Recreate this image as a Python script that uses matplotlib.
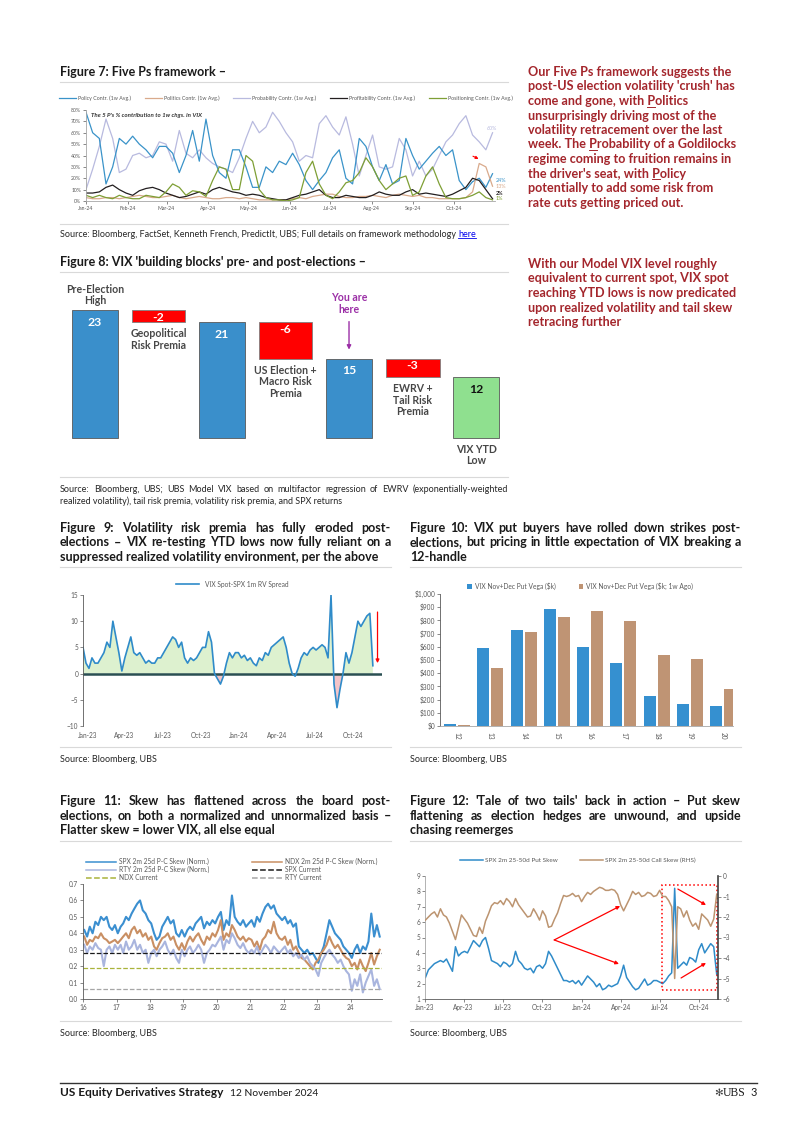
import numpy as np
import pandas as pd
import matplotlib
matplotlib.use("Agg")
import matplotlib.pyplot as plt
import matplotlib.dates as mdates
from matplotlib.lines import Line2D
from matplotlib.patches import Rectangle
from matplotlib.ticker import MultipleLocator, FuncFormatter

# ======================= DATA =======================
# Figure 7 - Five Ps contributions (%)
fp_labels = ["Policy Contr. (1w Avg.)", "Politics Contr. (1w Avg.)", "Probability Contr. (1w Avg.)",
             "Profitability Contr. (1w Avg.)", "Positioning Contr. (1w Avg.)"]
fp_policy = [78, 60, 55, 15, 30, 55, 50, 57, 50, 45, 38, 48, 48, 42, 25, 40, 62, 35, 72, 40, 25, 20, 45, 45, 30,
             12, 12, 30, 25, 35, 32, 42, 32, 18, 10, 18, 25, 38, 45, 20, 15, 55, 48, 30, 18, 32, 15, 18, 55, 40,
             28, 35, 42, 48, 40, 45, 18, 10, 17, 20, 12, 24]
fp_politics = [3, 2, 2, 3, 3, 2, 3, 4, 5, 4, 3, 3, 4, 5, 3, 2, 3, 4, 3, 2, 2, 3, 3, 2, 3, 2, 1, 1, 1, 1, 1, 2, 3,
               2, 4, 5, 6, 6, 4, 3, 3, 4, 4, 5, 4, 3, 5, 6, 5, 4, 5, 3, 3, 2, 2, 2, 2, 3, 8, 33, 30, 13]
fp_probability = [10, 28, 48, 72, 55, 25, 28, 40, 42, 38, 40, 52, 50, 35, 62, 42, 38, 45, 38, 33, 30, 28, 25, 38,
                  55, 70, 60, 65, 78, 70, 60, 52, 35, 40, 38, 68, 75, 65, 58, 74, 50, 22, 40, 58, 30, 28, 30, 55,
                  45, 22, 35, 22, 28, 40, 52, 58, 68, 75, 58, 52, 45, 60]
fp_profitability = [7, 7, 8, 12, 14, 10, 7, 5, 9, 11, 12, 10, 7, 5, 3, 4, 6, 8, 6, 10, 12, 10, 8, 7, 5, 6, 5, 3, 2,
                    1, 1, 3, 5, 6, 8, 10, 5, 3, 3, 5, 4, 3, 3, 5, 8, 6, 5, 5, 8, 10, 6, 7, 6, 5, 4, 6, 9, 12, 20,
                    18, 10, 2]
fp_positioning = [5, 3, 5, 3, 2, 5, 3, 2, 2, 5, 4, 3, 8, 15, 12, 5, 9, 8, 4, 18, 30, 28, 10, 10, 40, 35, 10, 3, 1,
                  1, 0, 1, 3, 25, 35, 15, 5, 2, 8, 16, 18, 25, 38, 30, 18, 10, 15, 20, 22, 5, 8, 22, 30, 15, 3, 2,
                  2, 3, 5, 8, 3, 1]

# Figure 8 - VIX building blocks
wf_labels = ["Pre-Election\nHigh", "Geopolitical\nRisk Premia", "", "US Election +\nMacro Risk\nPremia",
             "You are\nhere", "EWRV +\nTail Risk\nPremia", "VIX YTD\nLow"]
wf_values = [23, -2, 21, -6, 15, -3, 12]
wf_kind = ["level", "delta", "level", "delta", "level", "delta", "target"]

# Figure 9 - VIX spot minus SPX 1m RV (weekly samples)
vrp_label = "VIX Spot-SPX 1m RV Spread"
vrp = [5, 2, 1, 3, 2, 2, 3, 4, 6, 5,
       10, 7, 4, 0.5, 3, 5, 7, 4, 3.5, 4,
       3, 2, 2.5, 2, 2, 3, 3, 4, 5, 6,
       7, 6.5, 5, 6, 3, 2, 3, 2.5, 3, 4,
       5, 5, 8, 6, 0, -1, -2, -0.5, 2, 4,
       3, 4, 4, 3, 3.5, 2.5, 3, 2, 1.5, 3,
       2.5, 4, 3.5, 5, 5.5, 6, 6.5, 7, 5, 2,
       0, -0.5, 1, 3, 4, 3.5, 4.5, 5, 4.5, 5,
       5.5, 5, 3, 15, -2, -6.5, -3, 0, 4, 2,
       4, 7, 10, 9, 10, 11, 11.5, 1.5]

# Figure 10 - VIX put vega by strike ($k)
strikes = ["12", "13", "14", "15", "16", "17", "18", "19", "20"]
vega_now = [15, 590, 730, 890, 600, 480, 230, 170, 150]
vega_1w = [10, 440, 710, 825, 870, 795, 540, 510, 280]
vega_labels = ["VIX Nov+Dec Put Vega ($k)", "VIX Nov+Dec Put Vega ($k; 1w Ago)"]

# Figure 11 - normalized 25d put-call skew (monthly)
skew_labels = ["SPX 2m 25d P-C Skew (Norm.)", "NDX 2m 25d P-C Skew (Norm.)", "RTY 2m 25d P-C Skew (Norm.)",
               "SPX Current", "NDX Current", "RTY Current"]
spx_skew = [0.42, 0.38, 0.44, 0.40, 0.47, 0.45, 0.50, 0.48, 0.50, 0.44, 0.42, 0.45,
            0.40, 0.44, 0.46, 0.50, 0.48, 0.52, 0.55, 0.58, 0.60, 0.54, 0.52, 0.48,
            0.46, 0.40, 0.36, 0.38, 0.44, 0.47, 0.50, 0.46, 0.48, 0.40, 0.38, 0.42,
            0.38, 0.42, 0.44, 0.42, 0.46, 0.48, 0.50, 0.43, 0.47, 0.45, 0.48, 0.46,
            0.50, 0.53, 0.42, 0.48, 0.45, 0.63, 0.50, 0.47, 0.45, 0.48, 0.44, 0.46,
            0.48, 0.44, 0.50, 0.47, 0.52, 0.56, 0.58, 0.55, 0.57, 0.52, 0.50, 0.48,
            0.50, 0.46, 0.48, 0.44, 0.46, 0.32, 0.30, 0.28, 0.30, 0.27, 0.28, 0.25,
            0.22, 0.28, 0.32, 0.40, 0.48, 0.44, 0.40, 0.38, 0.36, 0.32, 0.30, 0.28,
            0.25, 0.30, 0.33, 0.28, 0.32, 0.30, 0.35, 0.52, 0.38, 0.45, 0.38]
ndx_skew = [0.38, 0.33, 0.36, 0.35, 0.38, 0.37, 0.40, 0.37, 0.36, 0.34, 0.35, 0.36,
            0.34, 0.36, 0.38, 0.40, 0.37, 0.42, 0.44, 0.40, 0.42, 0.38, 0.40, 0.36,
            0.38, 0.32, 0.30, 0.34, 0.37, 0.38, 0.40, 0.36, 0.38, 0.33, 0.30, 0.34,
            0.30, 0.35, 0.38, 0.35, 0.38, 0.40, 0.36, 0.33, 0.38, 0.36, 0.40, 0.38,
            0.42, 0.48, 0.36, 0.40, 0.38, 0.45, 0.42, 0.38, 0.36, 0.38, 0.35, 0.37,
            0.36, 0.32, 0.35, 0.30, 0.36, 0.38, 0.42, 0.40, 0.47, 0.40, 0.37, 0.36,
            0.38, 0.33, 0.36, 0.30, 0.32, 0.28, 0.25, 0.24, 0.22, 0.20, 0.18, 0.22,
            0.24, 0.28, 0.30, 0.33, 0.38, 0.34, 0.31, 0.33, 0.30, 0.27, 0.25, 0.24,
            0.20, 0.22, 0.18, 0.24, 0.20, 0.17, 0.22, 0.28, 0.21, 0.26, 0.30]
rty_skew = [0.33, 0.28, 0.32, 0.30, 0.34, 0.31, 0.30, 0.20, 0.30, 0.32, 0.28, 0.33,
            0.30, 0.33, 0.28, 0.35, 0.30, 0.32, 0.36, 0.30, 0.33, 0.28, 0.30, 0.22,
            0.28, 0.30, 0.26, 0.30, 0.32, 0.35, 0.30, 0.27, 0.30, 0.25, 0.22, 0.30,
            0.26, 0.30, 0.32, 0.28, 0.30, 0.33, 0.30, 0.22, 0.28, 0.30, 0.33, 0.32,
            0.35, 0.38, 0.30, 0.36, 0.34, 0.40, 0.37, 0.33, 0.31, 0.34, 0.30, 0.28,
            0.30, 0.28, 0.32, 0.27, 0.30, 0.33, 0.31, 0.28, 0.32, 0.30, 0.28, 0.30,
            0.32, 0.28, 0.30, 0.26, 0.28, 0.25, 0.27, 0.24, 0.26, 0.22, 0.20, 0.18,
            0.14, 0.22, 0.25, 0.28, 0.30, 0.27, 0.25, 0.22, 0.24, 0.20, 0.17, 0.15,
            0.05, 0.12, 0.08, 0.15, 0.04, 0.10, 0.14, 0.18, 0.08, 0.12, 0.06]
skew_current = [0.28, 0.19, 0.06]   # SPX, NDX, RTY

# Figure 12 - SPX put / call skew (weekly)
tails_labels = ["SPX 2m 25-50d Put Skew", "SPX 2m 25-50d Call Skew (RHS)"]
put_skew = [2.4, 2.9, 3.1, 3.3, 3.4, 3.5, 3.4, 3.6, 3.2, 2.8,
            4.4, 3.8, 4.0, 4.1, 4.0, 4.4, 4.8, 4.6, 4.4, 4.8,
            5.0, 4.3, 3.5, 3.4, 3.3, 3.1, 3.4, 3.3, 3.1, 3.3,
            4.1, 3.5, 3.3, 3.0, 2.9, 3.0, 2.7, 3.1, 3.2, 3.0,
            3.3, 4.1, 3.8, 3.4, 3.0, 2.6, 2.2, 2.2, 2.1, 2.2,
            2.0, 2.2, 1.9, 2.2, 2.5, 2.3, 2.1, 1.8, 2.0, 1.6,
            1.7, 1.9, 1.8, 1.9, 2.0, 2.5, 3.2, 2.4, 2.1, 1.8,
            1.6, 1.7, 2.0, 2.3, 1.9, 2.0, 2.2, 2.2, 2.1, 2.0,
            2.2, 2.5, 2.7, 8.2, 3.0, 3.2, 3.4, 3.2, 3.7, 3.6,
            3.4, 4.2, 4.6, 4.0, 4.3, 4.6, 4.4, 2.6]
call_skew = [-2.15, -2.0, -1.85, -1.75, -2.0, -1.6, -1.9, -2.0, -2.3, -2.7,
             -3.1, -2.5, -1.9, -2.1, -2.3, -2.6, -2.9, -2.95, -2.5, -2.8,
             -2.2, -1.85, -1.45, -1.3, -1.35, -1.2, -1.4, -1.1, -1.25, -1.5,
             -1.1, -1.4, -1.6, -1.8, -2.0, -1.95, -1.6, -1.85, -2.15, -1.7,
             -1.95, -2.5, -2.45, -2.1, -1.8, -1.35, -0.95, -1.0, -0.95, -0.85,
             -1.0, -0.95, -1.25, -1.0, -0.8, -0.9, -0.75, -0.65, -0.55, -0.6,
             -0.7, -0.7, -0.65, -0.7, -0.9, -1.4, -1.7, -1.4, -1.1, -0.75,
             -0.9, -0.8, -1.0, -0.95, -0.8, -0.85, -1.0, -0.95, -0.7, -1.0,
             -1.0, -1.2, -1.5, -5.0, -1.5, -1.6, -2.0, -1.7, -2.15, -2.45,
             -2.3, -2.6, -1.85, -2.0, -2.15, -2.45, -2.1, -0.9]

# ======================= STYLE / LAYOUT =======================
W, H = 802, 1134
plt.rcParams['font.family'] = ['Lato', 'DejaVu Sans']
TXT = '#1a1a1a'
GRAY = '#595959'
SEP = '#d9d9d9'
REDTXT = '#a4262c'
BLUE = '#2f8bc9'

fig = plt.figure(figsize=(W / 100, H / 100), dpi=100)
fig.patch.set_facecolor('white')
renderer = fig.canvas.get_renderer()


def fx(x):
    return x / W


def fy(y):
    return 1 - y / H


def add_ax(l, t, r, b):
    return fig.add_axes([l / W, 1 - b / H, (r - l) / W, (b - t) / H])


def hline(x0, x1, y, color=SEP, lw=0.8):
    fig.add_artist(Line2D([fx(x0), fx(x1)], [fy(y), fy(y)], transform=fig.transFigure, color=color, lw=lw))


def text_w(s, **kw):
    t = fig.text(0, 0, s, **kw)
    w = t.get_window_extent(renderer).width
    t.remove()
    return w


def justify_line(s, x0, x1, y, **kw):
    words = s.split(' ')
    widths = [text_w(w, **kw) for w in words]
    gap = (x1 - x0 - sum(widths)) / max(len(words) - 1, 1)
    x = x0
    for w, wd in zip(words, widths):
        fig.text(fx(x), fy(y), w, va='center_baseline', ha='left', **kw)
        x += wd + gap


def paragraph(lines, x0, x1, y0, dy, justify=True, **kw):
    for i, ln in enumerate(lines):
        y = y0 + i * dy
        if justify and i < len(lines) - 1:
            justify_line(ln, x0, x1, y, **kw)
        else:
            fig.text(fx(x0), fy(y), ln, va='center_baseline', ha='left', **kw)


def style_axes(ax, size=4.5):
    ax.tick_params(axis='both', labelsize=size, colors=GRAY, length=2, width=0.5, pad=1.5)
    for s in ['top', 'right']:
        ax.spines[s].set_visible(False)
    for s in ['left', 'bottom']:
        ax.spines[s].set_color('#a6a6a6')
        ax.spines[s].set_linewidth(0.6)


TITLE = dict(fontsize=9.0, fontweight='bold', color=TXT)
SRC = dict(fontsize=6.5, color='#262626')

# ======================= FIGURE 7 =======================
fig.text(fx(60), fy(71), "Figure 7: Five Ps framework \u2013", va='center_baseline', **TITLE)
hline(60, 508, 82)
ax7 = add_ax(86, 110, 495, 201)
d7 = pd.date_range('2024-01-01', '2024-10-30', periods=len(fp_policy))
fp_series = [fp_policy, fp_politics, fp_probability, fp_profitability, fp_positioning]
fp_colors = ['#3a93c9', '#d9aa8c', '#b8badf', '#231f20', '#7e9f35']
draw_order = [2, 0, 1, 3, 4]
lines7 = {}
for i in draw_order:
    ln, = ax7.plot(d7, np.array(fp_series[i]) / 100, color=fp_colors[i], lw=0.9, label=fp_labels[i])
    lines7[i] = ln
ax7.set_xlim(pd.Timestamp('2024-01-01'), pd.Timestamp('2024-10-31 20:00'))
ax7.set_ylim(0, 0.8)
ax7.yaxis.set_major_locator(MultipleLocator(0.1))
ax7.yaxis.set_major_formatter(FuncFormatter(lambda v, p: f"{v * 100:.0f}%"))
ax7.xaxis.set_major_locator(mdates.MonthLocator())
ax7.xaxis.set_major_formatter(mdates.DateFormatter('%b-%y'))
style_axes(ax7, 3.7)
ax7.legend([lines7[i] for i in range(5)], fp_labels, loc='center', ncol=5,
           bbox_to_anchor=(fx(286), fy(98)), bbox_transform=fig.transFigure, frameon=False,
           fontsize=3.8, handlelength=3.2, columnspacing=2.6, handletextpad=0.4, labelcolor=GRAY)
ax7.text(0.012, 0.97, "The 5 P's % contribution to 1w chgs. in VIX", transform=ax7.transAxes,
         fontsize=4.4, fontstyle='italic', fontweight='bold', color='#333333', va='top')
end_offsets = [(2, -5), (2, 0), (-4, 3), (2, 4), (2, 1)]
for i in range(5):
    ax7.annotate(f"{fp_series[i][-1]}%", xy=(d7[-1], fp_series[i][-1] / 100), xytext=end_offsets[i],
                 textcoords='offset points', fontsize=3.9, color=fp_colors[i], va='center', ha='left',
                 fontweight='bold' if i == 3 else 'normal', annotation_clip=False)
ax7.annotate("", xy=(0.966, 0.45), xytext=(0.94, 0.505), xycoords='axes fraction',
             arrowprops=dict(arrowstyle='-|>', color='red', lw=0.8, mutation_scale=4))
hline(60, 508, 224)
src7 = "Source: Bloomberg, FactSet, Kenneth French, PredictIt, UBS; Full details on framework methodology "
fig.text(fx(60), fy(234), src7, va='center_baseline', **SRC)
wsrc = text_w(src7, **SRC)
fig.text(fx(60 + wsrc), fy(234), "here", va='center_baseline', color='#0000ee', fontsize=SRC['fontsize'])
hline(60 + wsrc, 60 + wsrc + text_w("here", fontsize=SRC['fontsize']), 238, color='#0000ee', lw=0.6)

# ======================= FIGURE 8 =======================
fig.text(fx(60), fy(261), "Figure 8: VIX 'building blocks' pre- and post-elections \u2013",
         va='center_baseline', **TITLE)
hline(60, 508, 272)
BASE = 2
ax8 = add_ax(60, 280, 510, 438)
ax8.set_xlim(-0.551, 6.535)
ax8.set_ylim(BASE, 27.93)
ax8.axis('off')
LBL = dict(fontsize=7.6, fontweight='bold', color='#474747', ha='center', linespacing=1.05)
PURPLE = '#9b2fa6'
level = None
for i, (lab, v, kind) in enumerate(zip(wf_labels, wf_values, wf_kind)):
    if kind in ('level', 'target'):
        col = '#3a8fcb' if kind == 'level' else '#8fe08f'
        ax8.bar(i, v - BASE, bottom=BASE, width=0.724, color=col, edgecolor='#595959', lw=0.6, clip_on=False)
        ax8.annotate(str(v), xy=(i, v), xytext=(0, -12), textcoords='offset pixels', ha='center', va='center',
                     fontsize=8.8, fontweight='bold', color='white' if kind == 'level' else '#111111')
        top, bottom = v, BASE
        level = v
    else:
        new = level + v
        ax8.bar(i, level - new, bottom=new, width=0.85, color='#ff0000', edgecolor='#7f7f7f', lw=0.6)
        ax8.annotate(str(v), xy=(i, level), xytext=(0, -7), textcoords='offset pixels', ha='center', va='center',
                     fontsize=8.8, fontweight='bold', color='white')
        top, bottom = level, new
        level = new
    if not lab:
        continue
    if i == 0:
        ax8.annotate(lab, xy=(i, top), xytext=(0, 4), textcoords='offset pixels', va='bottom',
                     annotation_clip=False, **LBL)
    elif kind == 'delta':
        ax8.annotate(lab, xy=(i, bottom), xytext=(0, -6), textcoords='offset pixels', va='top', **LBL)
    elif kind == 'target':
        ax8.annotate(lab, xy=(i, BASE), xytext=(0, -6), textcoords='offset pixels', va='top',
                     annotation_clip=False, **LBL)
    else:
        lbl = dict(LBL, color=PURPLE)
        ax8.annotate(lab, xy=(i, top), xytext=(0, 44), textcoords='offset pixels', va='bottom',
                     annotation_clip=False, **lbl)
        ax8.annotate("", xy=(i, top + 1.5), xytext=(i, top + 6.1),
                     arrowprops=dict(arrowstyle='-|>', color=PURPLE, lw=1.0, mutation_scale=6,
                                     shrinkA=0, shrinkB=0))
hline(60, 508, 477)
paragraph(["Source: Bloomberg, UBS; UBS Model VIX based on multifactor regression of EWRV (exponentially-weighted",
           "realized volatility), tail risk premia, volatility risk premia, and SPX returns"],
          60, 508, 488, 12.5, **SRC)

# ======================= RIGHT COMMENTARY =======================
RC = dict(fontsize=9.1, fontweight='bold', color=REDTXT)
p1 = ["Our Five Ps framework suggests the",
      "post-US election volatility 'crush' has",
      "come and gone, with Politics",
      "unsurprisingly driving most of the",
      "volatility retracement over the last",
      "week. The Probability of a Goldilocks",
      "regime coming to fruition remains in",
      "the driver's seat, with Policy",
      "potentially to add some risk from",
      "rate cuts getting priced out."]
paragraph(p1, 528, 760, 71, 14.5, justify=False, **RC)
for li, prefix in [(2, "come and gone, with "), (5, "week. The "), (7, "the driver's seat, with ")]:
    x0 = 528 + text_w(prefix, **RC)
    hline(x0, x0 + text_w("P", **RC), 71 + li * 14.5 + 6.5, color=REDTXT, lw=0.7)
p2 = ["With our Model VIX level roughly",
      "equivalent to current spot, VIX spot",
      "reaching YTD lows is now predicated",
      "upon realized volatility and tail skew",
      "retracing further"]
paragraph(p2, 528, 760, 263, 14.5, justify=False, **RC)

# ======================= FIGURE 9 =======================
paragraph(["Figure 9: Volatility risk premia has fully eroded post-",
           "elections \u2013 VIX re-testing YTD lows now fully reliant on a",
           "suppressed realized volatility environment, per the above"], 60, 391, 527, 14.5, **TITLE)
hline(60, 391, 567)
ax9 = add_ax(83, 595, 382, 726)
d9 = pd.date_range('2022-12-22', '2024-11-18', periods=len(vrp))
v9 = np.array(vrp, dtype=float)
ax9.fill_between(d9, v9, 0, where=v9 >= 0, interpolate=True, color='#ddf1cf', lw=0)
ax9.fill_between(d9, v9, 0, where=v9 <= 0, interpolate=True, color='#f3c4c8', lw=0)
ax9.axhline(0, color='#2a4f52', lw=1.8)
l9, = ax9.plot(d9, v9, color=BLUE, lw=1.2, label=vrp_label)
ax9.set_ylim(-10, 15)
ax9.set_xlim(pd.Timestamp('2022-12-22'), pd.Timestamp('2024-12-10'))
ax9.yaxis.set_major_locator(MultipleLocator(5))
ax9.xaxis.set_major_locator(mdates.MonthLocator(bymonth=[1, 4, 7, 10]))
ax9.xaxis.set_major_formatter(mdates.DateFormatter('%b-%y'))
style_axes(ax9, 4.7)
ax9.spines['left'].set_color('#595959')
ax9.spines['bottom'].set_visible(False)
ax9.tick_params(axis='x', length=0, pad=4)
ax9.legend([l9], [vrp_label], loc='center', bbox_to_anchor=(fx(232), fy(584)), bbox_transform=fig.transFigure,
           frameon=False, fontsize=4.8, handlelength=3.5, labelcolor=GRAY)
ax9.annotate("", xy=(0.985, 0.48), xytext=(0.985, 0.87), xycoords='axes fraction',
             arrowprops=dict(arrowstyle='-|>', color='red', lw=0.9, mutation_scale=5, shrinkA=0, shrinkB=0))
hline(60, 391, 747)
fig.text(fx(60), fy(758), "Source: Bloomberg, UBS", va='center_baseline', **SRC)

# ======================= FIGURE 10 =======================
paragraph(["Figure 10: VIX put buyers have rolled down strikes post-",
           "elections, but pricing in little expectation of VIX breaking a",
           "12-handle"], 410, 741, 527, 14.5, **TITLE)
hline(410, 741, 567)
ax10 = add_ax(440, 594, 733, 726)
xs = np.arange(len(strikes))
ax10.bar(xs - 0.21, vega_now, width=0.36, color='#3590d0', label=vega_labels[0])
ax10.bar(xs + 0.21, vega_1w, width=0.36, color='#bf9474', label=vega_labels[1])
ax10.set_xlim(-0.51, 8.29)
ax10.set_ylim(0, 1000)
ax10.yaxis.set_major_locator(MultipleLocator(100))
ax10.yaxis.set_major_formatter(FuncFormatter(lambda v, p: f"${v:,.0f}"))
ax10.set_xticks(xs)
ax10.set_xticklabels(strikes, rotation=270)
style_axes(ax10, 4.7)
ax10.spines['left'].set_color('#595959')
ax10.tick_params(axis='x', length=0, pad=4)
ax10.legend(loc='center', ncol=2, bbox_to_anchor=(fx(580), fy(586)), bbox_transform=fig.transFigure,
            frameon=False, fontsize=4.8, handlelength=0.7, handleheight=0.7, columnspacing=3.5,
            handletextpad=0.4, labelcolor=GRAY)
hline(410, 741, 747)
fig.text(fx(410), fy(758), "Source: Bloomberg, UBS", va='center_baseline', **SRC)

# ======================= FIGURE 11 =======================
paragraph(["Figure 11: Skew has flattened across the board post-",
           "elections, on both a normalized and unnormalized basis \u2013",
           "Flatter skew = lower VIX, all else equal"], 60, 391, 800, 14.5, **TITLE)
hline(60, 391, 841)
ax11 = add_ax(83, 884, 382, 999)
d11 = pd.date_range('2016-01-01', periods=len(spx_skew), freq='MS') + pd.Timedelta(days=14)
ls, = ax11.plot(d11, spx_skew, color='#3b8fd0', lw=1.5)
ln_, = ax11.plot(d11, ndx_skew, color='#c98f63', lw=1.5)
lr, = ax11.plot(d11, rty_skew, color='#a9b5de', lw=1.5)
cur_styles = [dict(color='#1a1a1a'), dict(color='#a9b33a'), dict(color='#a6a6a6')]
cur_lines = [ax11.axhline(v, ls='--', lw=0.9, **st) for v, st in zip(skew_current, cur_styles)]
ax11.set_ylim(0, 0.7)
ax11.set_xlim(pd.Timestamp('2016-01-01'), pd.Timestamp('2024-12-10'))
ax11.yaxis.set_major_locator(MultipleLocator(0.1))
ax11.yaxis.set_major_formatter(FuncFormatter(lambda v, p: f"{v:.1f}"))
ax11.xaxis.set_major_locator(mdates.YearLocator())
ax11.xaxis.set_major_formatter(mdates.DateFormatter('%y'))
style_axes(ax11, 4.7)
ax11.spines['left'].set_color('#595959')
ax11.spines['bottom'].set_color('#595959')
handles11 = [ls, lr, cur_lines[1], ln_, cur_lines[0], cur_lines[2]]
labels11 = [skew_labels[0], skew_labels[2], skew_labels[4], skew_labels[1], skew_labels[3], skew_labels[5]]
leg11 = ax11.legend(handles11, labels11, loc='upper left', ncol=2, bbox_to_anchor=(fx(80), fy(852)),
                    bbox_transform=fig.transFigure, frameon=False, fontsize=4.8, handlelength=4.5,
                    columnspacing=6.5, handletextpad=0.4, labelspacing=0.15, labelcolor=GRAY)
for h in leg11.get_lines():
    h.set_linewidth(1.1)
hline(60, 391, 1021)
fig.text(fx(60), fy(1033), "Source: Bloomberg, UBS", va='center_baseline', **SRC)

# ======================= FIGURE 12 =======================
paragraph(["Figure 12: 'Tale of two tails' back in action \u2013 Put skew",
           "flattening as election hedges are unwound, and upside",
           "chasing reemerges"], 410, 741, 800, 14.5, **TITLE)
hline(410, 741, 841)
ax12 = add_ax(425, 876, 718, 999)
d12 = pd.date_range('2023-01-02', periods=len(put_skew), freq='7D')
lp, = ax12.plot(d12, put_skew, color=BLUE, lw=1.1, label=tails_labels[0])
ax12b = ax12.twinx()
lc, = ax12b.plot(d12, call_skew, color='#bc9470', lw=1.1, label=tails_labels[1])
ax12.set_ylim(1, 9)
ax12b.set_ylim(-6, 0)
ax12.set_xlim(pd.Timestamp('2023-01-01'), pd.Timestamp('2024-11-14'))
ax12.yaxis.set_major_locator(MultipleLocator(1))
ax12b.yaxis.set_major_locator(MultipleLocator(1))
ax12.xaxis.set_major_locator(mdates.MonthLocator(bymonth=[1, 4, 7, 10]))
ax12.xaxis.set_major_formatter(mdates.DateFormatter('%b-%y'))
style_axes(ax12, 4.7)
ax12b.tick_params(axis='both', labelsize=4.7, colors=GRAY, length=2, width=0.5, pad=1.5)
ax12b.spines['top'].set_visible(False)
ax12b.spines['left'].set_visible(False)
ax12b.spines['bottom'].set_visible(False)
ax12b.spines['right'].set_color('#404040')
ax12b.spines['right'].set_linewidth(1.2)
ax12.spines['bottom'].set_color('#595959')
ax12.legend([lp, lc], tails_labels, loc='center', ncol=2, bbox_to_anchor=(fx(578), fy(860)),
            bbox_transform=fig.transFigure, frameon=False, fontsize=4.6, handlelength=3.5,
            columnspacing=3.5, handletextpad=0.4, labelcolor=GRAY)
ax12b.add_patch(Rectangle((0.808, 0.073), 0.19, 0.854, transform=ax12b.transAxes, fill=False,
                          edgecolor='red', ls=':', lw=1.1))
for (x0, y0), (x1, y1) in [((0.441, 0.48), (0.666, 0.756)), ((0.441, 0.48), (0.662, 0.285)),
                           ((0.863, 0.894), (0.959, 0.764)), ((0.874, 0.171), (0.959, 0.293))]:
    ax12b.annotate("", xy=(x1, y1), xytext=(x0, y0), xycoords='axes fraction',
                   arrowprops=dict(arrowstyle='-|>', color='red', lw=0.9, mutation_scale=5,
                                   shrinkA=0, shrinkB=0))
hline(410, 741, 1021)
fig.text(fx(410), fy(1033), "Source: Bloomberg, UBS", va='center_baseline', **SRC)

# ======================= FOOTER =======================
hline(60, 757, 1083, color='#333333', lw=1.0)
FOOT = dict(color=TXT, va='baseline')
FY = 1096.5
fig.text(fx(60), fy(FY), "US Equity Derivatives Strategy", fontweight='bold', fontsize=8.6, **FOOT)
fig.text(fx(60 + text_w("US Equity Derivatives Strategy", fontsize=8.6, fontweight='bold') + 7), fy(FY),
         "12 November 2024", fontsize=7.4, **FOOT)
fig.text(fx(757), fy(FY), "3", ha='right', fontsize=7.8, **FOOT)
fig.text(fx(745), fy(FY), "UBS", ha='right', fontsize=8.4, family='Liberation Serif', **FOOT)
fig.text(fx(723), fy(FY), "\u273b", ha='right', fontsize=7.5, family='DejaVu Sans', color='#404040',
         va='baseline')

fig.savefig('out.png', dpi=100, facecolor='white')
